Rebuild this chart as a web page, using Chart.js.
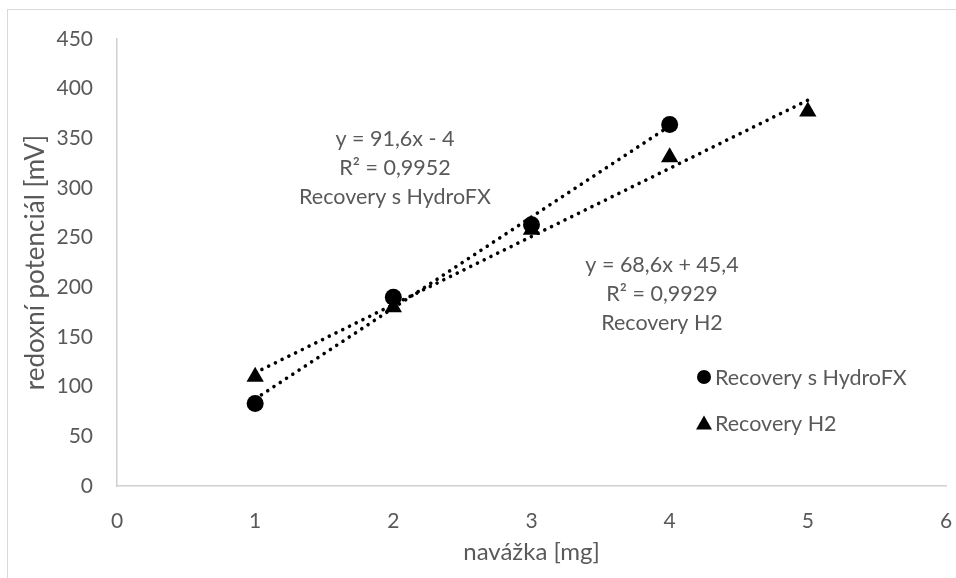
<!DOCTYPE html>
<html>
<head>
<meta charset="utf-8">
<script src="https://cdn.jsdelivr.net/npm/chart.js@4.4.1/dist/chart.umd.min.js"></script>
<style>
  html, body { margin: 0; padding: 0; background: #ffffff; }
  #wrap { width: 956px; height: 578px; position: relative; }
</style>
</head>
<body>
<div id="wrap"><canvas id="c" width="956" height="578"></canvas></div>
<script>
// ---- data ----
const xHydro = [1, 2, 3, 4];
const yHydro = [83, 190, 263, 364];
const xH2 = [1, 2, 3, 4, 5];
const yH2 = [110, 180, 258, 331, 377];
// trendline end points (from the displayed equations)
const trendHydroX = [1, 4];
const trendHydroY = [87.6, 362.4];
const trendH2X = [1, 5];
const trendH2Y = [114.0, 388.4];
const labelHydro = ['y = 91,6x - 4', 'R² = 0,9952', 'Recovery s HydroFX'];
const labelH2 = ['y = 68,6x + 45,4', 'R² = 0,9929', 'Recovery H2'];
const seriesNames = ['Recovery s HydroFX', 'Recovery H2'];
const xTitle = 'navážka [mg]';
const yTitle = 'redoxní potenciál [mV]';
const xMin = 0, xMax = 6, xStep = 1;
const yMin = 0, yMax = 450, yStep = 50;

const FONT = 'Lato';
const GREY = '#595959';

const pts = (xs, ys) => xs.map((x, i) => ({ x: x, y: ys[i] }));

const decor = {
  id: 'decor',
  beforeDraw(chart) {
    const ctx = chart.ctx;
    ctx.save();
    ctx.strokeStyle = '#d9d9d9';
    ctx.lineWidth = 1;
    ctx.strokeRect(7.5, 9.5, 1100, 1100);
    ctx.restore();
  },
  afterDraw(chart) {
    const ctx = chart.ctx;
    ctx.save();
    ctx.fillStyle = GREY;
    ctx.font = '21.5px ' + FONT;
    ctx.textAlign = 'center';
    ctx.textBaseline = 'middle';
    const lh = 29;
    labelHydro.forEach((t, i) => ctx.fillText(t, 395, 139 + i * lh));
    labelH2.forEach((t, i) => ctx.fillText(t, 662, 265 + i * lh));
    // legend
    ctx.textAlign = 'left';
    ctx.fillStyle = '#000';
    ctx.beginPath();
    ctx.arc(704, 377, 7, 0, Math.PI * 2);
    ctx.fill();
    ctx.beginPath();
    ctx.moveTo(704, 415.5);
    ctx.lineTo(712, 429.5);
    ctx.lineTo(696, 429.5);
    ctx.closePath();
    ctx.fill();
    ctx.fillStyle = GREY;
    ctx.fillText(seriesNames[0], 715, 378);
    ctx.fillText(seriesNames[1], 715, 424);
    ctx.restore();
  }
};

const dotted = { borderColor: '#000', borderWidth: 3.6, borderDash: [0.01, 7.5], borderCapStyle: 'round',
  showLine: true, pointRadius: 0, pointHoverRadius: 0, fill: false, tension: 0 };

new Chart(document.getElementById('c'), {
  type: 'scatter',
  data: {
    datasets: [
      Object.assign({ label: 'trend1', data: pts(trendHydroX, trendHydroY), order: 3 }, dotted),
      Object.assign({ label: 'trend2', data: pts(trendH2X, trendH2Y), order: 3 }, dotted),
      { label: seriesNames[0], data: pts(xHydro, yHydro), pointStyle: 'circle', pointRadius: 8.5,
        backgroundColor: '#000', borderColor: '#000', borderWidth: 0, order: 1 },
      { label: seriesNames[1], data: pts(xH2, yH2), pointStyle: 'triangle', pointRadius: 10,
        backgroundColor: '#000', borderColor: '#000', borderWidth: 0, order: 2 }
    ]
  },
  options: {
    responsive: false,
    animation: false,
    events: [],
    layout: { padding: { top: 39, right: 0, left: 0, bottom: 0 } },
    plugins: { legend: { display: false }, tooltip: { enabled: false } },
    scales: {
      x: {
        type: 'linear', min: xMin, max: xMax,
        ticks: { stepSize: xStep, color: GREY, font: { family: FONT, size: 21 }, padding: 23 },
        grid: { display: true, drawOnChartArea: false, drawTicks: false },
        border: { display: true, color: '#d0d0d0', width: 1.5 },
        title: { display: true, text: xTitle, color: GREY, font: { family: FONT, size: 24 }, padding: 11 },
        afterFit(s) { s.height = 92; s.paddingRight = 10; s.paddingLeft = 0; }
      },
      y: {
        type: 'linear', min: yMin, max: yMax,
        ticks: { stepSize: yStep, color: GREY, font: { family: FONT, size: 21 }, padding: 24 },
        grid: { display: true, drawOnChartArea: false, drawTicks: false },
        border: { display: true, color: '#d0d0d0', width: 1.5 },
        title: { display: true, text: yTitle, color: GREY, font: { family: FONT, size: 26 }, padding: 20 },
        afterFit(s) { s.width = 117; s.paddingTop = 0; s.paddingBottom = 0; }
      }
    }
  },
  plugins: [decor]
});
</script>
</body>
</html>
